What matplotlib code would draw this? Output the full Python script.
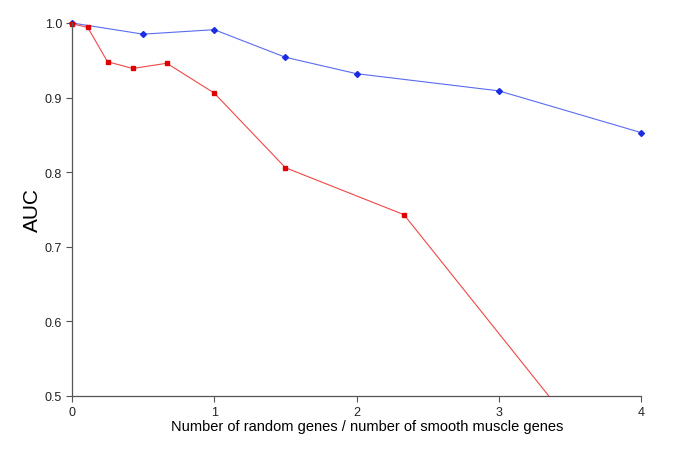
import matplotlib
matplotlib.use("Agg")
import matplotlib.pyplot as plt
from matplotlib.patches import Rectangle

# ratio random genes / smooth muscle genes
blue_x = [0, 0.5, 1, 1.5, 2, 3, 4]
blue_auc = [1.0, 0.985, 0.991, 0.954, 0.932, 0.909, 0.853]

red_x = [0, 1/9, 0.25, 3/7, 2/3, 1, 1.5, 7/3, 4]
red_auc = [0.999, 0.994, 0.948, 0.939, 0.946, 0.906, 0.806, 0.743, 0.345]

x_ticks = [0, 1, 2, 3, 4]
y_ticks = [0.5, 0.6, 0.7, 0.8, 0.9, 1.0]

plt.rcParams['font.family'] = ['Liberation Sans', 'DejaVu Sans']

fig = plt.figure(figsize=(6.85, 4.52), dpi=100)
ax = fig.add_axes([0.105, 0.1217, 0.831, 0.8253])

l1, = ax.plot(blue_x, blue_auc, color='#5a6cf0', linewidth=0.8,
              marker='D', markersize=3, markerfacecolor='#1a2ee0', markeredgecolor='#1a2ee0')
l2, = ax.plot(red_x, red_auc, color='#f04848', linewidth=0.8,
              marker='s', markersize=3.5, markerfacecolor='#e00000', markeredgecolor='#e00000')

# clip only at the bottom so the markers on the edges stay whole
clip = Rectangle((-0.05, 0), 1.1, 1.1, transform=ax.transAxes)
for ln in (l1, l2):
    ln.set_clip_path(clip)

ax.set_xlim(0, 4)
ax.set_ylim(0.5, 1.0)
ax.set_xticks(x_ticks)
ax.set_yticks(y_ticks)
ax.set_yticklabels([f"{v:.1f}" for v in y_ticks])

for s in ('top', 'right'):
    ax.spines[s].set_visible(False)
for s in ('left', 'bottom'):
    ax.spines[s].set_color('#555555')
    ax.spines[s].set_linewidth(0.9)
ax.tick_params(direction='out', length=4, width=0.8, color='#555555',
               labelsize=9, labelcolor='#222222', pad=3)

ax.set_xlabel('Number of random genes / number of smooth muscle genes', fontsize=10.5, labelpad=1)
ax.xaxis.label.set_x(0.518)
ax.set_ylabel('AUC', fontsize=15, labelpad=2)

fig.savefig('out.png', dpi=100)
plt.close(fig)
